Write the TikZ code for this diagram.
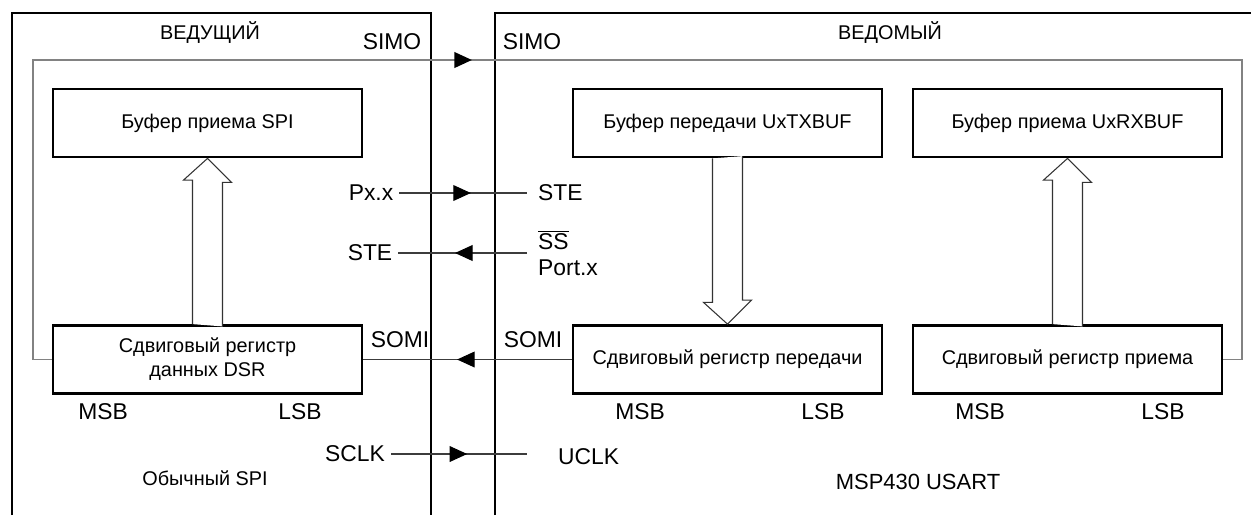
\documentclass[tikz,border=0pt]{standalone}
\usepackage{fontspec}
\setmainfont{Liberation Sans}
\usetikzlibrary{arrows.meta,positioning,calc,decorations.markings}
\definecolor{spi_line}{RGB}{60,60,60}
\definecolor{spi_loop}{RGB}{130,130,130}

\tikzset{
  blk/.style={draw, line width=1.6pt, minimum width=6.18cm, minimum height=1.36cm,
    align=center, font=\fontsize{11.3}{13.6}\selectfont},
  lbl/.style={font=\fontsize{13}{15}\selectfont},
  ttl/.style={font=\fontsize{11.3}{13.6}\selectfont},
  frame/.style={line width=1.1pt},
  sig/.style={draw=spi_line, line width=0.6pt},
  loopline/.style={draw=spi_loop, line width=0.9pt},
  fatline/.style={draw=black!80, line width=0.6pt, fill=white, line join=miter},
  arrowat/.style={postaction={decorate, decoration={markings,
    mark=at position #1 with {\arrow[black]{Triangle[length=10pt,width=9pt]}}}}},
}

\begin{document}
\begin{tikzpicture}[x=0.02cm, y=-0.02cm]
  \useasboundingbox (0,0) rectangle (1251,515);
  % Master and slave frames
  \draw[frame] (12,515) -- (12,13) -- (431,13) -- (431,515);
  \draw[frame] (495,515) -- (495,13) -- (1251,13);
  \node[ttl] (mtitle) at (210,33) {ВЕДУЩИЙ};
  \node[ttl] (stitle) at (890,33) {ВЕДОМЫЙ};
  % Buffers and shift registers
  \node[blk] (rxspi) at (207.5,123) {Буфер приема SPI};
  \node[blk] (txbuf) at (727.5,123) {Буфер передачи UxTXBUF};
  \node[blk] (rxbuf) at (1067.5,123) {Буфер приема UxRXBUF};
  \node[blk] (dsr) at (207.5,359.5) {Сдвиговый регистр\\данных DSR};
  \node[blk] (txsr) at (727.5,359.5) {Сдвиговый регистр передачи};
  \node[blk] (rxsr) at (1067.5,359.5) {Сдвиговый регистр приема};
  % Wide transfer arrows
  \draw[fatline] (dsr.north) ++(-15,0) -- ++(0,-144) -- ++(-9,0)
    -- (rxspi.south) -- ++(24,24) -- ++(-9,0) -- ++(0,144);
  \draw[fatline] (txbuf.south) ++(-15,0) -- ++(0,144) -- ++(-9,0)
    -- (txsr.north) -- ++(24,-24) -- ++(-9,0) -- ++(0,-144);
  \draw[fatline] (rxsr.north) ++(-15,0) -- ++(0,-144) -- ++(-9,0)
    -- (rxbuf.south) -- ++(24,24) -- ++(-9,0) -- ++(0,144);
  % SIMO loop
  \coordinate (loopL) at (33,60);
  \coordinate (loopR) at (1242,60);
  \draw[loopline] (dsr.west) -| (loopL) -- (loopR) |- (rxsr.east);
  \draw[loopline, arrowat=0.363] (loopL) -- (loopR);
  \node[lbl] (simoM) at (392,42) {SIMO};
  \node[lbl] (simoS) at (532,42) {SIMO};
  % Control lines
  \node[lbl] (pxx) at (371,193) {Px.x};
  \node[lbl] (steM) at (370,253) {STE};
  \node[lbl, anchor=west] (steS) at (532,193) {STE};
  \node[lbl, anchor=west] (ssS) at (532,240) {$\overline{\mbox{SS}}$};
  \node[lbl, anchor=west] (portS) at (532,268) {Port.x};
  \coordinate (pxEnd) at (527,193);
  \coordinate (steEnd) at (527,253);
  \draw[sig, arrowat=0.56] (pxx.east) -- (pxEnd);
  \draw[sig, arrowat=0.56] (steEnd) -- (steM.east);
  % SOMI
  \node[lbl] (somiM) at (400,340) {SOMI};
  \node[lbl] (somiS) at (533,340) {SOMI};
  \draw[sig, arrowat=0.55] (txsr.west) -- (dsr.east);
  % Clock
  \node[lbl] (sclk) at (355,454) {SCLK};
  \node[lbl, anchor=west] (uclk) at (552,457) {UCLK};
  \coordinate (sclkEnd) at (527,454);
  \draw[sig, arrowat=0.56] (sclk.east) -- (sclkEnd);
  % Bit order
  \node[lbl] (dsrmsb) at (103,412) {MSB};
  \node[lbl] (dsrlsb) at (300,412) {LSB};
  \node[lbl] (txmsb) at (640,412) {MSB};
  \node[lbl] (txlsb) at (823,412) {LSB};
  \node[lbl] (rxmsb) at (980,412) {MSB};
  \node[lbl] (rxlsb) at (1163,412) {LSB};
  % Notes
  \node[ttl] (mnote) at (205,478) {Обычный SPI};
  \node[ttl, font=\fontsize{12.5}{15}\selectfont] (snote) at (918,482) {MSP430 USART};
\end{tikzpicture}
\end{document}
